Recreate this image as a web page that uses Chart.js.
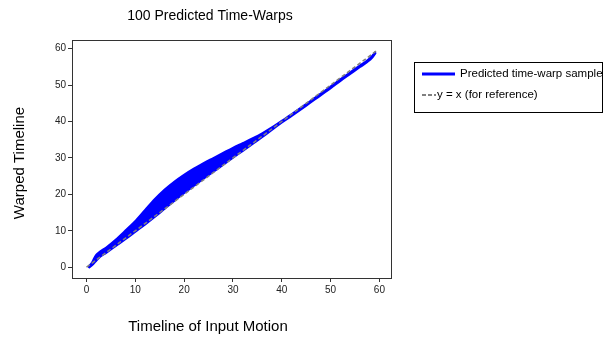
<!DOCTYPE html>
<html>
<head>
<meta charset="utf-8">
<script src="https://cdn.jsdelivr.net/npm/chart.js@4/dist/chart.umd.min.js"></script>
<style>
    html, body { margin: 0; padding: 0; background: #fff; }
    #wrap { position: relative; width: 609px; height: 339px; }
</style>
</head>
<body>
<div id="wrap"><canvas id="chart" width="609" height="339"></canvas></div>
<script>
// x positions shared by both edges of the band of predicted warps
const XS = [0.4, 1.2, 1.8, 2.5, 4, 6, 8, 10, 12, 14, 16, 18, 20, 22, 24, 26, 28, 30, 32, 34, 36, 38, 40, 42, 45, 48, 50, 52, 54, 56, 57.5, 58.5, 59.2];
const UPPER = [0, 1.3, 2.9, 3.9, 5.3, 7.5, 10.0, 12.6, 15.6, 18.6, 21.2, 23.4, 25.3, 27.0, 28.5, 29.9, 31.3, 32.7, 34.0, 35.3, 36.7, 38.3, 40.1, 41.9, 44.7, 47.6, 49.5, 51.5, 53.4, 55.3, 56.7, 57.9, 59.1];
const LOWER = [-0.2, 0.7, 1.6, 2.6, 4.0, 5.9, 7.8, 9.8, 11.8, 13.9, 16.1, 18.3, 20.4, 22.4, 24.4, 26.3, 28.2, 30.1, 32.0, 33.9, 35.8, 37.8, 39.8, 41.6, 44.4, 47.3, 49.2, 51.2, 53.1, 55.0, 56.4, 57.6, 58.9];
const REF_X = [0, 59.3];
const REF_Y = [0, 59.3];
const TICKS = [0, 10, 20, 30, 40, 50, 60];
const AXIS_MIN = -2.97;
const AXIS_MAX = 62.37;

const BLUE = '#0000ff';
const GRAY = '#808080';
const INK = '#222';
const FONT = '"Liberation Sans", Arial, sans-serif';

const pts = (xs, ys) => xs.map((x, i) => ({ x, y: ys[i] }));

const frame = {
    id: 'frame',
    afterDraw(chart) {
        const { ctx, chartArea: a } = chart;
        ctx.save();
        ctx.strokeStyle = '#333';
        ctx.lineWidth = 1;
        ctx.strokeRect(Math.round(a.left) + 0.5, Math.round(a.top) + 0.5, Math.round(a.right - a.left), Math.round(a.bottom - a.top));

        ctx.fillStyle = '#000';
        ctx.textAlign = 'center';
        ctx.textBaseline = 'middle';
        ctx.font = '14px ' + FONT;
        ctx.fillText('100 Predicted Time-Warps', 210, 16);
        ctx.font = '15px ' + FONT;
        ctx.fillText('Timeline of Input Motion', 208, 327);
        ctx.save();
        ctx.translate(20, 163);
        ctx.rotate(-Math.PI / 2);
        ctx.fillText('Warped Timeline', 0, 0);
        ctx.restore();

        // legend box
        ctx.lineWidth = 1;
        ctx.strokeStyle = '#000';
        ctx.strokeRect(414.5, 62.5, 188, 50);
        ctx.strokeStyle = BLUE;
        ctx.lineWidth = 3;
        ctx.beginPath();
        ctx.moveTo(422, 74);
        ctx.lineTo(455, 74);
        ctx.stroke();
        ctx.strokeStyle = GRAY;
        ctx.lineWidth = 2;
        ctx.setLineDash([4, 2]);
        ctx.beginPath();
        ctx.moveTo(422, 95);
        ctx.lineTo(436, 95);
        ctx.stroke();
        ctx.setLineDash([]);
        ctx.fillStyle = '#000';
        ctx.font = '11.5px ' + FONT;
        ctx.textAlign = 'left';
        ctx.fillText(chart.data.datasets[0].label, 460, 74);
        ctx.fillText(chart.data.datasets[2].label, 437, 95);
        ctx.restore();
    },
};

const axis = (extra) => ({
    type: 'linear',
    min: AXIS_MIN,
    max: AXIS_MAX,
    afterBuildTicks: (s) => { s.ticks = TICKS.map((v) => ({ value: v })); },
    ticks: { color: INK, font: { family: FONT, size: 10 }, padding: 2 },
    grid: { drawOnChartArea: false, drawTicks: true, tickLength: 4, color: '#333' },
    border: { display: false },
    ...extra,
});

new Chart(document.getElementById('chart'), {
    type: 'line',
    data: {
        datasets: [
            {
                label: 'Predicted time-warp sample',
                data: pts(XS, UPPER),
                borderColor: BLUE,
                backgroundColor: BLUE,
                borderWidth: 2.5,
                fill: '+1',
                order: 2,
            },
            {
                label: 'lower',
                data: pts(XS, LOWER),
                borderColor: BLUE,
                borderWidth: 2.5,
                fill: false,
                order: 1,
            },
            {
                label: 'y = x (for reference)',
                data: pts(REF_X, REF_Y),
                borderColor: GRAY,
                borderWidth: 1.5,
                borderDash: [4, 2.5],
                fill: false,
                order: 0,
            },
        ],
    },
    options: {
        responsive: false,
        animation: false,
        parsing: false,
        elements: {
            point: { radius: 0 },
            line: { tension: 0.4, cubicInterpolationMode: 'monotone' },
        },
        layout: { padding: { top: 40, right: 218, left: 0, bottom: 0 } },
        plugins: {
            legend: { display: false },
            tooltip: { enabled: false },
        },
        scales: {
            x: axis({ afterFit: (s) => { s.height = 61; } }),
            y: axis({ afterFit: (s) => { s.width = 72; } }),
        },
    },
    plugins: [frame],
});
</script>
</body>
</html>
